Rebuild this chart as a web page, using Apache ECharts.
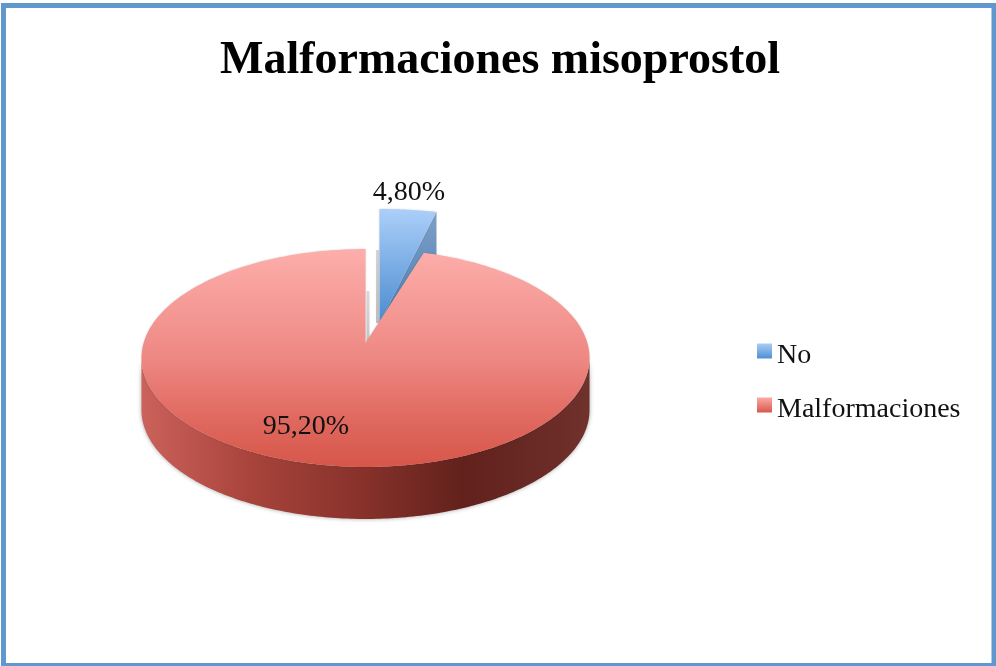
<!DOCTYPE html>
<html><head><meta charset="utf-8">
<style>html,body{margin:0;padding:0;background:#fff}#c{width:996px;height:666px}</style>
<script src="https://cdn.jsdelivr.net/npm/echarts@6/dist/echarts.min.js"></script>
</head><body><div id="c"></div>
<script>
var titleText = 'Malformaciones misoprostol';
var categories = ['No', 'Malformaciones'];
var values = [4.8, 95.2];

var FONT = '"Liberation Serif", serif';
var total = values.reduce(function (a, b) { return a + b; }, 0);
var G = echarts.graphic;
function vgrad(stops) {
  return new G.LinearGradient(0, 0, 0, 1, stops.map(function (s) { return { offset: s[0], color: s[1] }; }));
}
function hgrad(stops) {
  return new G.LinearGradient(0, 0, 1, 0, stops.map(function (s) { return { offset: s[0], color: s[1] }; }));
}
// perspective pie projection, one set per slice (the exploded slice is seen at a different depth)
var DEPTH = 52;
var sliceLayout = [
  { ax: 379.5, ay: 323, rx: 331, ry: 200.6, k: 0.76, lx: 409, ly: 193 },
  { ax: 365.5, ay: 343, rx: 221.9, ry: 106.9, k: 0.1376, lx: 306, ly: 427 }
];
function pt(l, th) {
  var w = 1 + l.k * Math.cos(th);
  return [l.ax + l.rx * Math.sin(th) / w, l.ay - l.ry * Math.cos(th) / w];
}
function arc(l, a, b, n, dy) {
  var out = [];
  for (var i = 0; i <= n; i++) {
    var p = pt(l, a + (b - a) * i / n);
    out.push([p[0], p[1] + (dy || 0)]);
  }
  return out;
}
function pct(v) { return v.toFixed(2).replace('.', ',') + '%'; }

var faces = [
  [[0, '#abcffa'], [1, '#4a8bcf']],
  [[0, '#fdaeab'], [0.5, '#ee8883'], [0.8, '#df675d'], [1, '#d7564a']]
];
var legendColors = [
  [[0, '#a9cdf8'], [1, '#4f8fd2']],
  [[0, '#fdaaa6'], [1, '#d9574c']]
];
function fadeLine(x, y1, y2, alpha) {
  return { type: 'line', shape: { x1: x, y1: y1, x2: x, y2: y2 },
    style: { lineWidth: 3, stroke: new G.LinearGradient(0, 0, 0, 1, [
      { offset: 0, color: 'rgba(90,90,90,' + alpha * 0.6 + ')' }, { offset: 1, color: 'rgba(90,90,90,' + alpha + ')' }]), shadowBlur: 2, shadowColor: 'rgba(90,90,90,0.3)' } };
}

function renderSlice(params, api) {
  var i = params.seriesIndex, l = sliceLayout[i];
  var before = 0;
  for (var j = 0; j < i; j++) before += values[j];
  var a = before / total * 2 * Math.PI;
  var b = (before + api.value(0)) / total * 2 * Math.PI;
  var top = [[l.ax, l.ay]].concat(arc(l, a, b, 240));
  var children = [];
  if (i === 0) {
    var end = pt(l, b);
    children.push({ type: 'polygon', shape: { points: [[l.ax, l.ay], end, [end[0], end[1] + DEPTH], [l.ax, l.ay + DEPTH]] },
      style: { fill: vgrad([[0, '#7f9fc6'], [1, '#2f6ea8']]) } });
    children.push(fadeLine(l.ax - 2, l.ay - 73, l.ay, 0.35));
  } else {
    var kMax = Math.acos(-l.k);
    var front = arc(l, kMax, 2 * Math.PI - kMax, 200, 0);
    var bottom = arc(l, 2 * Math.PI - kMax, kMax, 200, DEPTH);
    children.push({ type: 'polygon', shape: { points: front.concat(bottom) },
      style: { fill: hgrad([[0, '#cb625b'], [0.25, '#a7433b'], [0.5, '#86312a'], [0.72, '#62211c'], [0.9, '#6a2a25'], [1, '#70322c']]),
        shadowBlur: 4, shadowColor: 'rgba(0,0,0,0.35)' } });
    children.push(fadeLine(l.ax + 2.5, l.ay - 52, l.ay, 0.3));
  }
  children.push({ type: 'polygon', shape: { points: top }, style: { fill: vgrad(faces[i]), shadowBlur: 2, shadowColor: 'rgba(0,0,0,0.18)' } });
  children.push({ type: 'text', z2: 10, style: { x: l.lx, y: l.ly, text: pct(api.value(0)), fill: '#111', font: '28px ' + FONT, align: 'center', verticalAlign: 'middle' } });
  return { type: 'group', children: children };
}

var chart = echarts.init(document.getElementById('c'), null, { renderer: 'canvas' });
chart.setOption({
  animation: false,
  backgroundColor: '#fff',
  title: {
    text: titleText, left: 495, top: 33, textAlign: 'center',
    textStyle: { fontFamily: FONT, fontWeight: 'bold', fontSize: 46, color: '#000' }
  },
  legend: {
    orient: 'vertical', left: 752, top: 331.5, itemWidth: 15, itemHeight: 15, itemGap: 21, selectedMode: false,
    icon: 'rect',
    formatter: '{t|{name}}',
    textStyle: { rich: { t: { fontFamily: FONT, fontSize: 28, color: '#111', lineHeight: 20, height: 20, padding: [9, 0, 0, 0] } } },
    data: categories
  },
  graphic: [{ type: 'rect', silent: true, z: 100, shape: { x: 3.5, y: 5.5, width: 990.5, height: 660 }, style: { fill: 'none', stroke: '#6097cd', lineWidth: 5 } }],
  series: categories.map(function (name, i) {
    return { type: 'custom', name: name, coordinateSystem: 'none', silent: true, z: 2 + i,
      itemStyle: { color: vgrad(legendColors[i]) },
      renderItem: renderSlice, data: [[values[i]]] };
  })
});
</script></body></html>
